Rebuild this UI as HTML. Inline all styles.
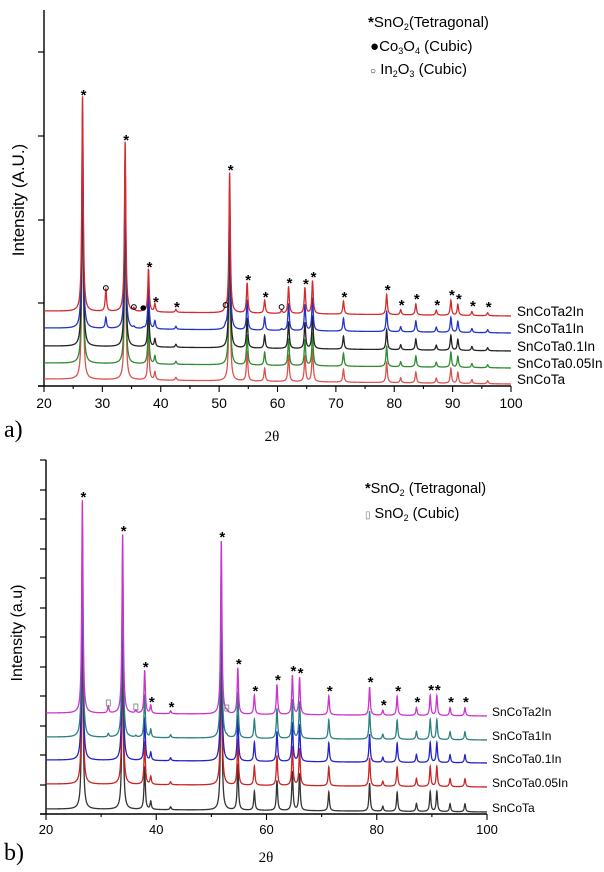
<!DOCTYPE html>
<html><head><meta charset="utf-8"><style>
html,body{margin:0;padding:0;background:#fff;}
svg{display:block;font-family:"Liberation Sans",sans-serif;}
.nar{font-family:"Liberation Sans Narrow","Liberation Sans",sans-serif;}
</style></head><body>
<svg id="fig" width="604" height="872" viewBox="0 0 604 872" xmlns="http://www.w3.org/2000/svg">
<g id="pa"></g>
<g id="pb"></g>
</svg>
<script>
// ---- Panel A data ----
const aSeries = ["SnCoTa","SnCoTa0.05In","SnCoTa0.1In","SnCoTa1In","SnCoTa2In"];
const aOffsets = [2,18,35,53,70];
const aInScale = [0,0,0,0.5,1];
const aTetPos = [26.6,33.9,37.9,39.0,42.6,51.8,54.8,57.8,61.9,64.7,66.0,71.3,78.7,81.1,83.7,87.2,89.7,90.9,93.3,96.0];
const aTetInt = [215,170,43,8,3,140,30,13,27,26,33,13,20,5,11,5,15,11,4,3];
const aInPos = [30.6,35.4,51.1,60.7];
const aInInt = [22,3,5,3];
const aCoPos = [37.0];
const aCoInt = [2];
const aXTicks = [20,30,40,50,60,70,80,90,100];
// ---- Panel B data ----
const bSeries = ["SnCoTa","SnCoTa0.05In","SnCoTa0.1In","SnCoTa1In","SnCoTa2In"];
const bOffsets = [2,27,51,74,98];
const bCubScale = [0,0,0,0.5,1];
const bTetPos = [26.6,33.9,37.9,39.0,42.6,51.8,54.8,57.8,61.9,64.7,66.0,71.3,78.7,81.1,83.7,87.2,89.7,90.9,93.3,96.0];
const bTetInt = [213,179,43,8,3,173,46,19,30,39,37,19,28,5,19,8,20,20,8,8];
const bCubPos = [31.3,36.3,52.8];
const bCubInt = [7,3,2];
const bXTicks = [20,40,60,80,100];

const NS="http://www.w3.org/2000/svg";
function mk(parent,tag,attrs,text){const e=document.createElementNS(NS,tag);for(const k in attrs)e.setAttribute(k,attrs[k]);if(text!==undefined)e.textContent=text;parent.appendChild(e);return e;}
function lor(x,p,h,g){const d=(x-p)/g;return h/(1+d*d);}

function panel(g,o){
  const X=v=>o.x0+(v-20)/(80)*(o.x1-o.x0);
  const Y=v=>o.base-v;
  const ya=mk(g,'line',{x1:o.ax,y1:o.top,x2:o.ax,y2:o.base,stroke:'#000','stroke-width':1.4});
  
  const xa=mk(g,'line',{x1:o.ax-6,y1:o.base,x2:o.x1,y2:o.base,stroke:'#000','stroke-width':1.4});
  
  for(const y of o.yt){const t=mk(g,'line',{x1:o.ax-6,y1:y,x2:o.ax,y2:y,stroke:'#000','stroke-width':1.2});}
  for(let v=20;v<=100;v+=o.minor){const major=o.ticks.includes(v);const t=mk(g,'line',{x1:X(v),y1:o.base,x2:X(v),y2:o.base+(major?6:3),stroke:'#000','stroke-width':1.1});}
  for(const v of o.ticks){const t=mk(g,'text',{x:X(v),y:o.base+o.tdy,'font-size':o.tfs,'text-anchor':'middle'},String(v));}
  for(let s=0;s<o.series.length;s++){
    let d='';
    for(let x=20;x<=100.001;x+=0.02){
      let v=o.off[s]+ (100-x)/80*o.tilt;
      for(let i=0;i<o.tp.length;i++)v+=lor(x,o.tp[i],o.ti[i],0.14);
      for(let i=0;i<o.ep.length;i++)v+=lor(x,o.ep[i],o.ei[i]*o.es[s],0.14);
      if(o.cp)for(let i=0;i<o.cp.length;i++)v+=lor(x,o.cp[i],o.ci[i]*o.es[s],0.14);
      d+=(d?'L':'M')+X(x).toFixed(2)+' '+Y(v).toFixed(2);
    }
    const p=mk(g,'path',{d:d,fill:'none',stroke:o.colors[s],'stroke-width':1.3});
    
    
    const l=mk(g,'text',{x:o.lx,y:Y(o.off[s])+o.ldy,'font-size':o.lfs,'class':'nar'},o.series[s]);
    
  }
  const top=o.series.length-1;
  for(let i=0;i<o.tp.length;i++){
    const m=mk(g,'text',{x:X(o.tp[i])+1,y:Y(o.off[top]+o.ti[i])-1,'font-size':15,'font-weight':'bold','text-anchor':'middle'},'*');
    
  }
  for(let i=0;i<o.ep.length;i++){
    const y=Y(o.off[top]+o.ei[i])-6;
    const m=o.emark==='circle'?mk(g,'circle',{cx:X(o.ep[i]),cy:y,r:2.4,fill:'none',stroke:'#000','stroke-width':1})
      :mk(g,'rect',{x:X(o.ep[i])-2,y:y-3,width:4,height:6,fill:'none',stroke:'#777','stroke-width':0.8});
    
  }
  if(o.cp)for(let i=0;i<o.cp.length;i++){
    const m=mk(g,'circle',{cx:X(o.cp[i]),cy:Y(o.off[top]+o.ci[i])-6,r:2.8,fill:'#000'});
    
  }
}
const ga=document.getElementById('pa'), gb=document.getElementById('pb');
panel(ga,{x0:44,x1:511,ax:44,top:10,base:386,yt:[52,136,220,303,386],ticks:aXTicks,minor:5,tfs:14,tdy:22,
  series:aSeries,off:aOffsets,tilt:5,tp:aTetPos,ti:aTetInt,ep:aInPos,ei:aInInt,es:aInScale,cp:aCoPos,ci:aCoInt,emark:'circle',
  colors:['#d9534f','#2e8b2e','#222','#2233cc','#d42a2a'],lx:517,ldy:0,lfs:13.5});
panel(gb,{x0:46,x1:487,ax:46,top:460,base:814,yt:[814,785,755,726,696,667,637,608,578,549,519,490,460],ticks:bXTicks,minor:10,tfs:13,tdy:20,
  series:bSeries,off:bOffsets,tilt:3,tp:bTetPos,ti:bTetInt,ep:bCubPos,ei:bCubInt,es:bCubScale,emark:'rect',
  colors:['#333','#cc2222','#2222cc','#2a8080','#cc33cc'],lx:492,ldy:0,lfs:12});
</script>
<script>
const f=document.getElementById('fig');
function T(x,y,fs,txt,name,extra){const e=document.createElementNS("http://www.w3.org/2000/svg",'text');e.setAttribute('x',x);e.setAttribute('y',y);e.setAttribute('font-size',fs);if(extra)for(const k in extra)e.setAttribute(k,extra[k]);e.innerHTML=txt;


f.appendChild(e);return e;}
T(24,200,17,'Intensity (A.U.)','y-axis-title-a',{transform:'rotate(-90 24 200)','text-anchor':'middle'});
T(272,441,15,'2θ','x-axis-title-a',{'font-family':'Liberation Serif,serif','text-anchor':'middle'});
T(4,437,24,'a)','panel-label-a',{'font-family':'Liberation Serif,serif'});
T(368,27,15,'<tspan font-weight="bold" font-size="15">*</tspan>SnO<tspan font-size="9" dy="3">2</tspan><tspan dy="-3">(Tetragonal)</tspan>','legend-tetragonal-a');
T(370,51,15,'●<tspan>Co</tspan><tspan font-size="9" dy="3">3</tspan><tspan dy="-3">O</tspan><tspan font-size="9" dy="3">4</tspan><tspan dy="-3"> (Cubic)</tspan>','legend-co3o4-a',{});
T(370,74,15,'<tspan font-size="10">○</tspan> In<tspan font-size="9" dy="3">2</tspan><tspan dy="-3">O</tspan><tspan font-size="9" dy="3">3</tspan><tspan dy="-3"> (Cubic)</tspan>','legend-in2o3-a');
T(22,633,16,'Intensity (a.u)','y-axis-title-b',{transform:'rotate(-90 22 633)','text-anchor':'middle'});
T(266,862,15,'2θ','x-axis-title-b',{'font-family':'Liberation Serif,serif','text-anchor':'middle'});
T(4,860,24,'b)','panel-label-b',{'font-family':'Liberation Serif,serif'});
T(365,493,14.5,'<tspan font-weight="bold">*</tspan>SnO<tspan font-size="9" dy="3">2</tspan><tspan dy="-3"> (Tetragonal)</tspan>','legend-tetragonal-b');
T(365,518,14.5,'<tspan font-size="10" fill="#777">▯</tspan> SnO<tspan font-size="9" dy="3">2</tspan><tspan dy="-3"> (Cubic)</tspan>','legend-cubic-b');
</script>
</body></html>
